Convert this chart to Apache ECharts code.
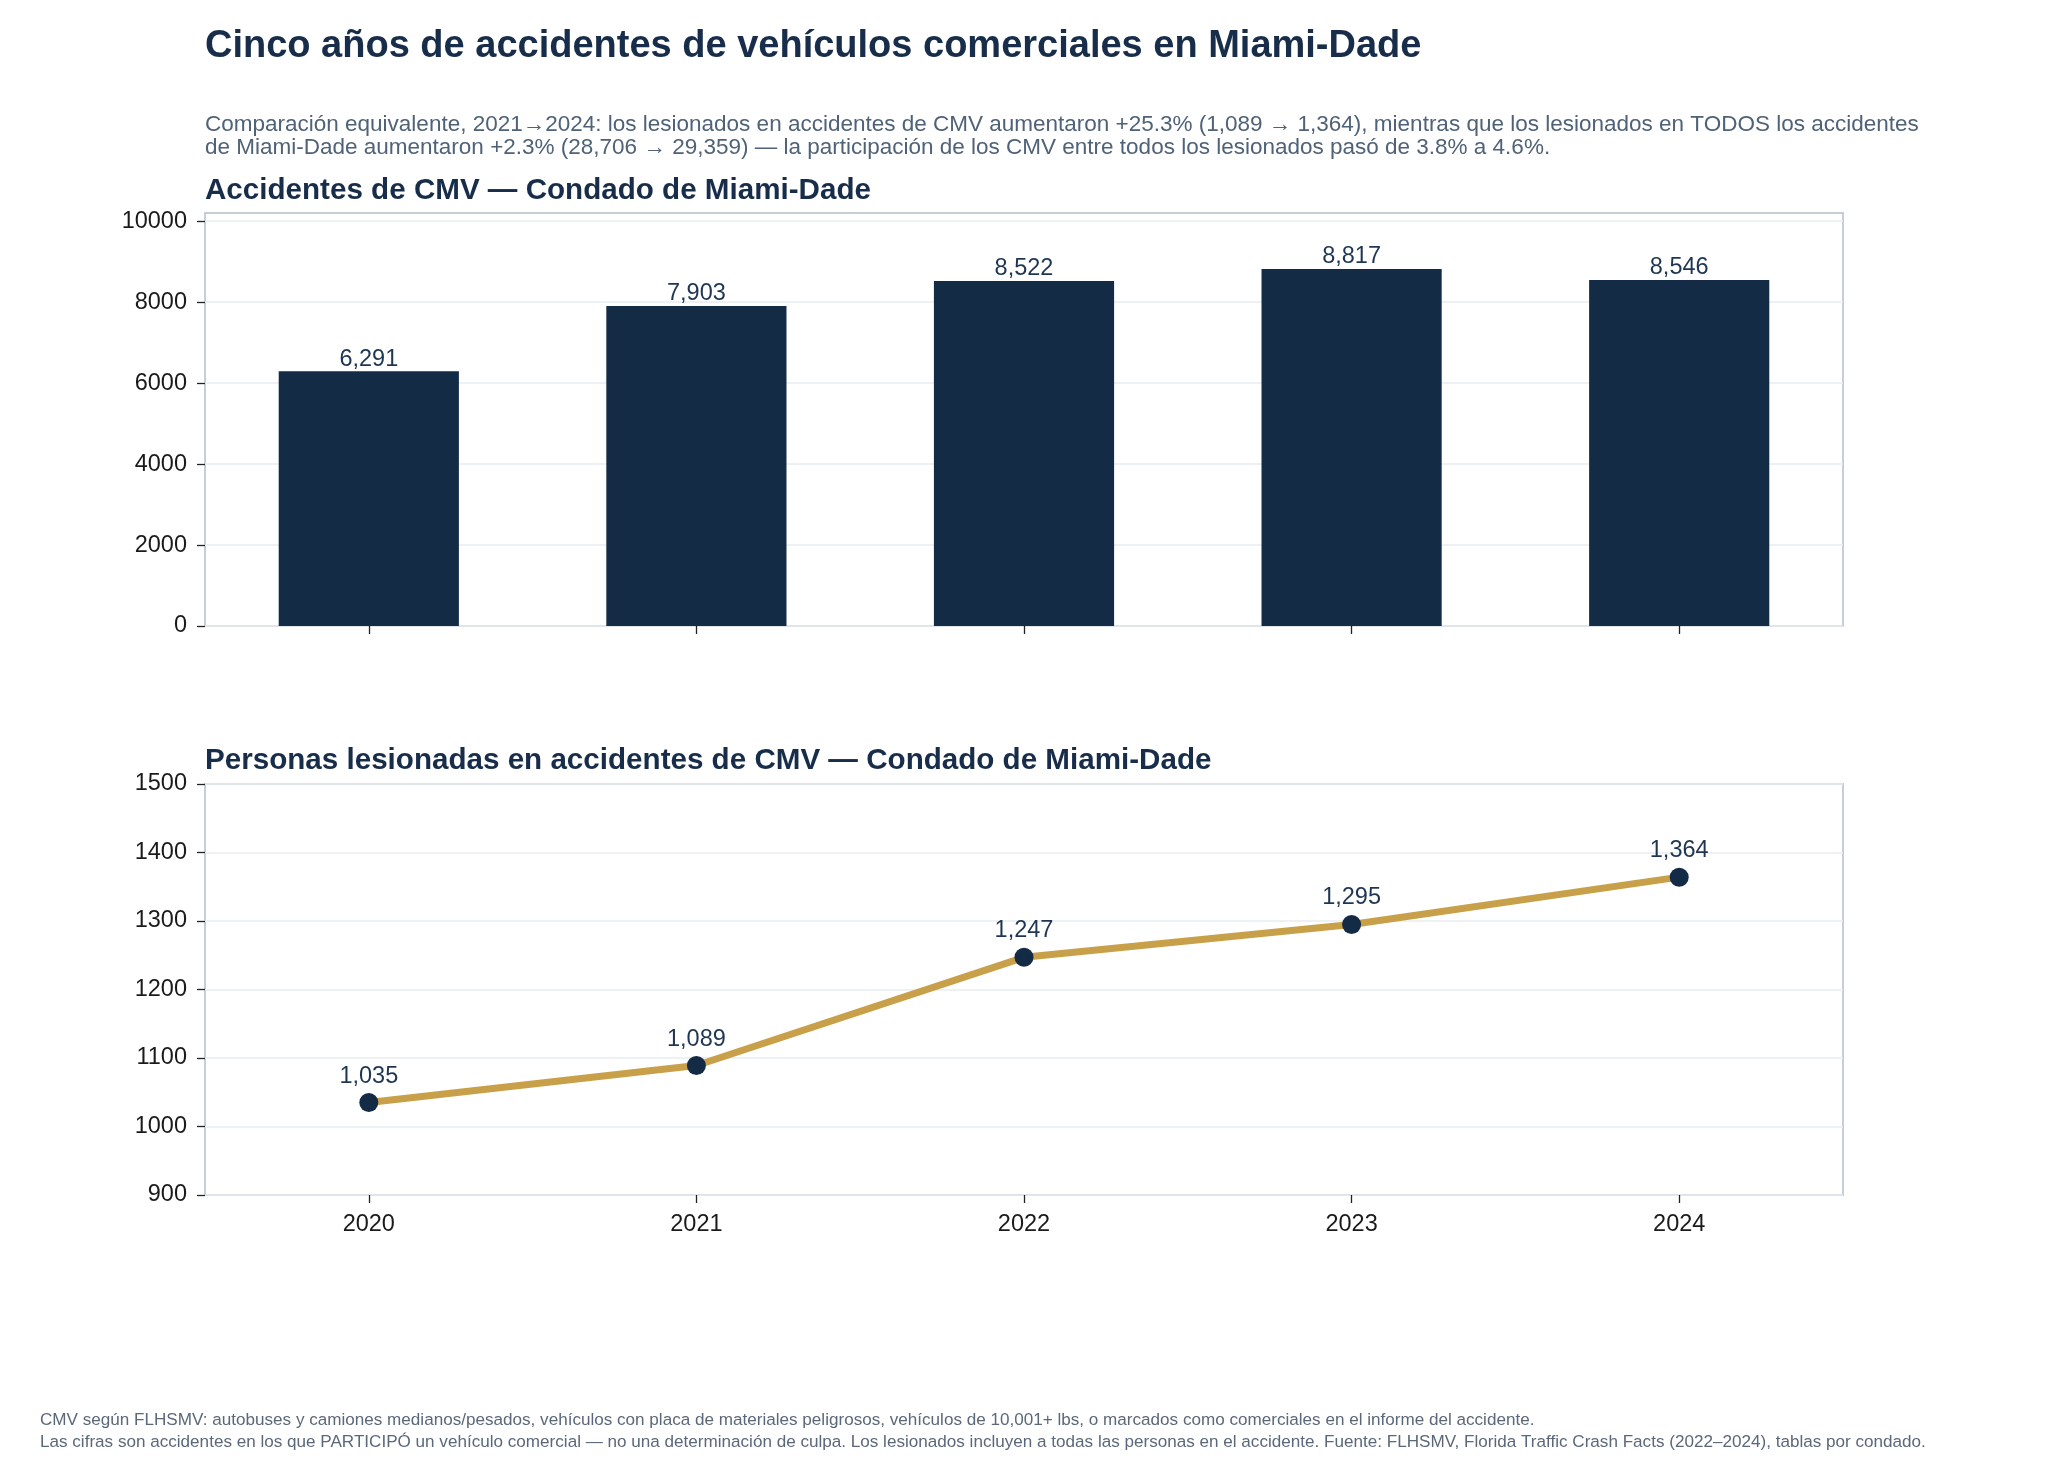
<!DOCTYPE html>
<html>
<head>
<meta charset="utf-8">
<script src="https://cdn.jsdelivr.net/npm/echarts@6/dist/echarts.min.js"></script>
<style>
html,body{margin:0;padding:0;background:#fff;}
#chart{width:2048px;height:1468px;}
</style>
</head>
<body>
<div id="chart"></div>
<script>
const years = ['2020', '2021', '2022', '2023', '2024'];
const crashes = [6291, 7903, 8522, 8817, 8546];
const injured = [1035, 1089, 1247, 1295, 1364];
const crashTicks = [0, 2000, 4000, 6000, 8000, 10000];
const injuredTicks = [900, 1000, 1100, 1200, 1300, 1400, 1500];

const mainTitle = 'Cinco años de accidentes de vehículos comerciales en Miami-Dade';
const subtitle = 'Comparación equivalente, 2021\u21922024: los lesionados en accidentes de CMV aumentaron +25.3% (1,089 \u2192 1,364), mientras que los lesionados en TODOS los accidentes\nde Miami-Dade aumentaron +2.3% (28,706 \u2192 29,359) \u2014 la participación de los CMV entre todos los lesionados pasó de 3.8% a 4.6%.';
const panelTitle1 = 'Accidentes de CMV \u2014 Condado de Miami-Dade';
const panelTitle2 = 'Personas lesionadas en accidentes de CMV \u2014 Condado de Miami-Dade';
const footer = 'CMV según FLHSMV: autobuses y camiones medianos/pesados, vehículos con placa de materiales peligrosos, vehículos de 10,001+ lbs, o marcados como comerciales en el informe del accidente.\nLas cifras son accidentes en los que PARTICIPÓ un vehículo comercial \u2014 no una determinación de culpa. Los lesionados incluyen a todas las personas en el accidente. Fuente: FLHSMV, Florida Traffic Crash Facts (2022\u20132024), tablas por condado.';

const FONT = "'Liberation Sans', Arial, Helvetica, sans-serif";
const NAVY = '#142b46';
const TITLE_C = '#172d4a';
const GOLD = '#c9a04a';
const fmt = v => Number(v).toLocaleString('en-US');

const chart = echarts.init(document.getElementById('chart'), null, {renderer: 'canvas'});

const axisCommonY = {
  type: 'value',
  axisLine: {show: false},
  axisTick: {show: true, length: 8, lineStyle: {color: '#222', width: 1.3}},
  axisLabel: {color: '#1a1a1a', fontSize: 23.5, fontFamily: FONT, margin: 18},
  splitLine: {show: true, lineStyle: {color: '#e8ecf1', width: 1.5}}
};

const option = {
  backgroundColor: '#ffffff',
  animation: false,
  title: [
    {text: mainTitle, left: 205, top: 28, padding: 0,
     textStyle: {fontFamily: FONT, fontSize: 38, fontWeight: 'bold', color: TITLE_C, lineHeight: 38}},
    {text: subtitle, left: 205, top: 113, padding: 0,
     textStyle: {fontFamily: FONT, fontSize: 22.5, fontWeight: 'normal', color: '#4f6277', lineHeight: 23.5}},
    {text: panelTitle1, left: 205, top: 175.5, padding: 0,
     textStyle: {fontFamily: FONT, fontSize: 29.6, fontWeight: 'bold', color: TITLE_C, lineHeight: 30}},
    {text: panelTitle2, left: 205, top: 746, padding: 0,
     textStyle: {fontFamily: FONT, fontSize: 29.6, fontWeight: 'bold', color: TITLE_C, lineHeight: 30}},
    {text: footer, left: 40, top: 1410, padding: 0,
     textStyle: {fontFamily: FONT, fontSize: 17.1, fontWeight: 'normal', color: '#5b687a', lineHeight: 21.5}}
  ],
  grid: [
    {left: 205, right: 205, top: 213, height: 413, show: true, borderColor: '#c6cdd9', borderWidth: 2, backgroundColor: 'transparent'},
    {left: 205, right: 205, top: 784, height: 411, show: true, borderColor: '#c6cdd9', borderWidth: 2, backgroundColor: 'transparent'}
  ],
  xAxis: [
    {type: 'category', gridIndex: 0, data: years, boundaryGap: true,
     axisLine: {show: false},
     axisTick: {show: true, alignWithLabel: true, length: 8, lineStyle: {color: '#222', width: 1.3}},
     axisLabel: {show: false}, splitLine: {show: false}},
    {type: 'category', gridIndex: 1, data: years, boundaryGap: true,
     axisLine: {show: false},
     axisTick: {show: true, alignWithLabel: true, length: 8, lineStyle: {color: '#222', width: 1.3}},
     axisLabel: {show: true, color: '#1a1a1a', fontSize: 23.5, fontFamily: FONT, margin: 18},
     splitLine: {show: false}}
  ],
  yAxis: [
    Object.assign({}, axisCommonY, {
      gridIndex: 0, min: 0, max: 10200, interval: 2000,
      axisTick: Object.assign({}, axisCommonY.axisTick, {customValues: crashTicks}),
      axisLabel: Object.assign({}, axisCommonY.axisLabel, {customValues: crashTicks,
        formatter: v => (crashTicks.indexOf(v) >= 0 ? String(v) : '')})
    }),
    Object.assign({}, axisCommonY, {
      gridIndex: 1, min: 900, max: 1500, interval: 100,
      axisTick: Object.assign({}, axisCommonY.axisTick, {customValues: injuredTicks}),
      axisLabel: Object.assign({}, axisCommonY.axisLabel, {customValues: injuredTicks,
        formatter: v => String(v)})
    })
  ],
  series: [
    {type: 'bar', xAxisIndex: 0, yAxisIndex: 0, data: crashes, barWidth: '55%',
     itemStyle: {color: NAVY},
     label: {show: true, position: 'top', distance: 0, color: '#1f3652', fontSize: 23.5, fontFamily: FONT,
       formatter: p => fmt(p.value)}},
    {type: 'line', xAxisIndex: 1, yAxisIndex: 1, data: injured,
     lineStyle: {color: GOLD, width: 7},
     symbol: 'circle', symbolSize: 19,
     itemStyle: {color: NAVY, borderWidth: 0},
     z: 3,
     label: {show: true, position: 'top', distance: 5, color: '#1f3652', fontSize: 23.5, fontFamily: FONT,
       formatter: p => fmt(p.value)}}
  ]
};

chart.setOption(option);
</script>
</body>
</html>
